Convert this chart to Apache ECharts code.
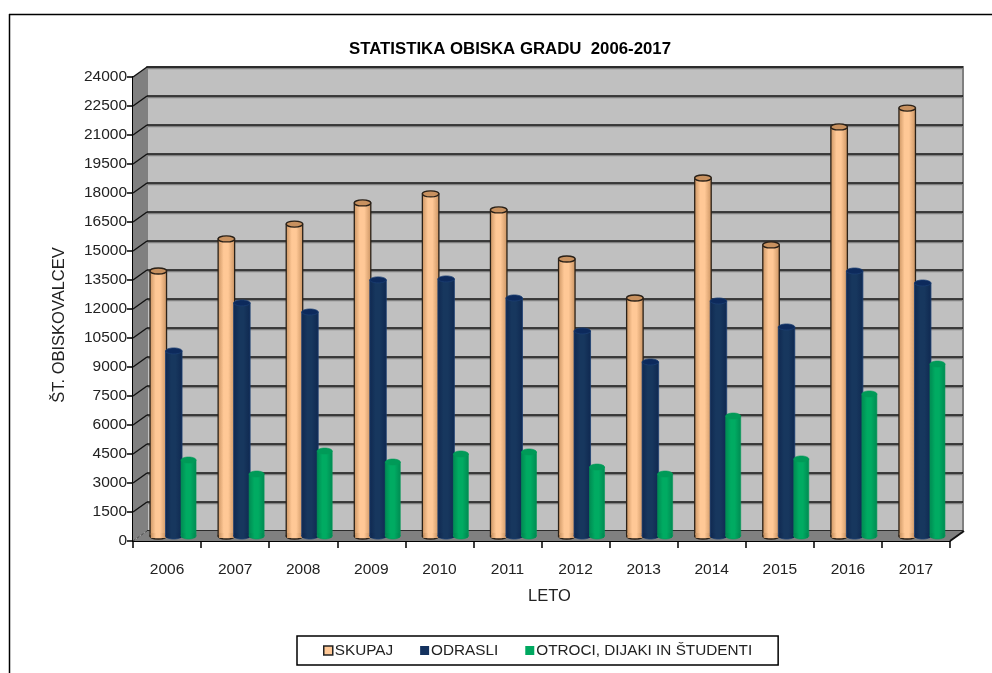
<!DOCTYPE html>
<html><head><meta charset="utf-8">
<style>html,body{margin:0;padding:0;background:#fff}#c{width:992px;height:673px}</style>
<script src="https://cdn.jsdelivr.net/npm/echarts@6/dist/echarts.min.js"></script></head>
<body><div id="c"></div>
<script>
const years = ['2006','2007','2008','2009','2010','2011','2012','2013','2014','2015','2016','2017'];
const skupaj = [13810,15470,16240,17330,17800,16970,14430,12415,18620,15160,21260,22240];
const odrasli = [9675,12160,11690,13350,13400,12415,10710,9105,12260,10915,13810,13190];
const otroci = [4035,3310,4500,3930,4345,4450,3670,3310,6310,4090,7450,9000];
const axisMax = 24000, axisStep = 1500;
const ticks = [];
for (let t = 0; t <= axisMax; t += axisStep) ticks.push(t);

const DX = 14, DY = -10;
const font = '"Liberation Sans", Arial, sans-serif';
const txt = '#222';

function grad(edge, mid) {
  return {type:'linear',x:0,y:0,x2:1,y2:0,colorStops:[
    {offset:0,color:edge},{offset:.35,color:mid},{offset:.6,color:mid},{offset:1,color:edge}]};
}
function cyl(off, w, fill, top, stroke, sw) {
  return function (params, api) {
    const i = api.value(0);
    const b = api.coord([i, 0]), t = api.coord([i, api.value(1)]);
    const cx = b[0] + off, by = b[1] - 5, ty = t[1] - 3;
    const rx = w / 2, ry = 3;
    return {type:'group',children:[
      {type:'ellipse',shape:{cx:cx+rx,cy:by,rx:rx,ry:ry},style:{fill:fill,stroke:stroke,lineWidth:sw}},
      {type:'rect',shape:{x:cx,y:ty,width:w,height:by-ty},style:{fill:fill,stroke:stroke,lineWidth:sw}},
      {type:'rect',shape:{x:cx+.8,y:by-3,width:w-1.6,height:5},style:{fill:fill}},
      {type:'ellipse',shape:{cx:cx+rx,cy:ty,rx:rx,ry:ry},style:{fill:top,stroke:stroke,lineWidth:sw}}
    ]};
  };
}
function wall(params, api) {
  const v = api.value(0);
  const p = api.coord([0, v]);
  const x0 = p[0] - api.size([1,0])[0] / 2;
  const kids = [];
  if (v === 0) {
    const tp = api.coord([0, axisMax])[1];
    const xr = api.coord([years.length - 1, 0])[0] + api.size([1,0])[0] / 2;
    kids.push({type:'polygon',shape:{points:[[x0,p[1]],[x0,tp],[x0+DX,tp+DY],[x0+DX,p[1]+DY]]},style:{fill:'#808080'}});
    kids.push({type:'polygon',shape:{points:[[x0,p[1]],[x0+DX,p[1]+DY],[xr+DX,p[1]+DY],[xr,p[1]]]},style:{fill:'#808080'}});
    kids.push({type:'line',shape:{x1:xr,y1:p[1],x2:xr+DX,y2:p[1]+DY},style:{stroke:'#111',lineWidth:2}});
    kids.push({type:'line',shape:{x1:x0,y1:p[1],x2:x0+DX,y2:p[1]+DY},style:{stroke:'#444',lineWidth:1,lineDash:[3,2]}});
  } else {
    kids.push({type:'line',shape:{x1:x0,y1:p[1],x2:x0+DX,y2:p[1]+DY},style:{stroke:'#111',lineWidth:1.4}});
  }
  return {type:'group',children:kids};
}
const names = ['SKUPAJ','ODRASLI','OTROCI, DIJAKI IN ŠTUDENTI'];
const option = {
  animation:false,
  backgroundColor:'#fff',
  title:{text:'STATISTIKA OBISKA GRADU  2006-2017',left:505,top:36,textAlign:'center',
    textStyle:{fontFamily:font,fontSize:16.8,fontWeight:'bold',color:'#000'}},
  legend:{left:297,top:636,orient:'horizontal',itemWidth:9,itemHeight:9,itemGap:27,
    padding:[7,26,7,26],borderColor:'#000',borderWidth:1.5,backgroundColor:'#fff',icon:'rect',
    textStyle:{fontFamily:font,fontSize:15.3,color:txt,padding:[0,0,0,-3]},
    data:[
      {name:names[0],itemStyle:{color:'#ffc896',borderColor:'#222',borderWidth:1.5}},
      {name:names[1],itemStyle:{color:'#14325f',borderColor:'#14325f',borderWidth:0}},
      {name:names[2],itemStyle:{color:'#00a860',borderColor:'#00a860',borderWidth:0}}
    ]},
  grid:[
    {left:133,right:42,top:77,bottom:132,containLabel:false,z:2},
    {left:147,right:29,top:67,bottom:142,show:true,backgroundColor:'#c0c0c0',borderColor:'#808080',borderWidth:2,z:0}
  ],
  xAxis:[
    {type:'category',gridIndex:0,data:years,axisLine:{lineStyle:{color:'#000',width:2}},
      axisTick:{show:true,alignWithLabel:false,length:7,lineStyle:{color:'#000',width:1.5}},
      axisLabel:{fontFamily:font,fontSize:15.5,color:txt,margin:21},
      name:'LETO',nameLocation:'middle',nameGap:47,nameTextStyle:{fontFamily:font,fontSize:16.5,color:txt,padding:[0,0,0,16]}},
    {type:'category',gridIndex:1,data:years,axisLine:{show:false},axisTick:{show:false},axisLabel:{show:false}}
  ],
  yAxis:[
    {type:'value',gridIndex:0,min:0,max:axisMax,interval:axisStep,
      axisLine:{show:true,lineStyle:{color:'#000',width:2}},
      axisTick:{show:true,length:6,lineStyle:{color:'#000',width:1.5}},
      splitLine:{show:false},
      axisLabel:{fontFamily:font,fontSize:15.5,color:txt,margin:6,formatter:v=>String(v)},
      name:'ŠT. OBISKOVALCEV',nameLocation:'middle',nameGap:65,nameRotate:90,
      nameTextStyle:{fontFamily:font,fontSize:16.5,color:txt,padding:[0,32,0,0]}},
    {type:'value',gridIndex:1,min:0,max:axisMax,interval:axisStep,
      axisLine:{show:false},axisTick:{show:false},axisLabel:{show:false},
      splitLine:{show:true,lineStyle:{color:'#111',width:1.7,shadowColor:'#808080',shadowBlur:0,shadowOffsetY:1.5}}}
  ],
  series:[
    {type:'custom',name:'wall',xAxisIndex:0,yAxisIndex:0,data:ticks.map(t=>[t]),renderItem:wall,silent:true,z:1,encode:{y:0}},
    {type:'custom',name:names[0],xAxisIndex:0,yAxisIndex:0,z:3,itemStyle:{color:'#ffc896'},
      data:skupaj.map((v,i)=>[i,v]),encode:{x:0,y:1},
      renderItem:cyl(-17,16.5,grad('#c8915f','#ffc896'),'#c8915f','#2a2118',1.3)},
    {type:'custom',name:names[1],xAxisIndex:0,yAxisIndex:0,z:4,itemStyle:{color:'#14325f'},
      data:odrasli.map((v,i)=>[i,v]),encode:{x:0,y:1},
      renderItem:cyl(-1.5,16.5,grad('#0f2850','#17375e'),'#0d2a5c','#1c3f72',.8)},
    {type:'custom',name:names[2],xAxisIndex:0,yAxisIndex:0,z:5,itemStyle:{color:'#00a860'},
      data:otroci.map((v,i)=>[i,v]),encode:{x:0,y:1},
      renderItem:cyl(14,15,grad('#008a52','#00ab62'),'#009a58','#009a58',.6)}
  ],
  graphic:[
    {type:'line',shape:{x1:9,y1:14.5,x2:992,y2:14.5},style:{stroke:'#000',lineWidth:1.5}},
    {type:'line',shape:{x1:9.5,y1:14,x2:9.5,y2:673},style:{stroke:'#000',lineWidth:1.5}}
  ]
};
const chart = echarts.init(document.getElementById('c'),null,{renderer:'canvas',width:992,height:673});
chart.setOption(option);
</script></body></html>
